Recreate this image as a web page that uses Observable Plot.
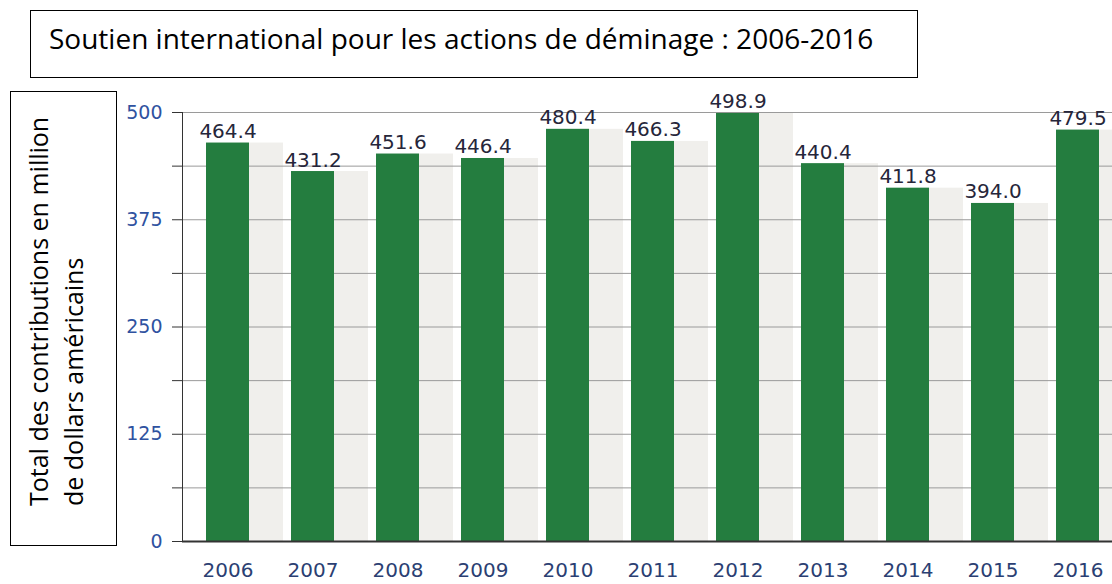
<!DOCTYPE html>
<html>
<head>
<meta charset="utf-8">
<script src="https://cdn.jsdelivr.net/npm/d3@7"></script>
<script src="https://cdn.jsdelivr.net/npm/@observablehq/plot@0.6"></script>
<style>
  html, body { margin: 0; padding: 0; background: #fff; }
  #wrap { position: relative; width: 1112px; height: 584px; overflow: hidden; background: #fff; }
  #titleBox { position: absolute; left: 30px; top: 10px; width: 888px; height: 68px; border: 1.5px solid #000; box-sizing: border-box; }
  #titleText { position: absolute; left: 49px; top: 24px; font-family: "Open Sans", sans-serif; font-size: 28px; line-height: 28px; color: #000; white-space: nowrap; }
  #ylabBox { position: absolute; left: 10px; top: 91px; width: 107px; height: 455px; border: 1.5px solid #000; box-sizing: border-box; background: #fff; }
  #ylabText { position: absolute; left: 21px; top: 506px; transform-origin: 0 0; transform: rotate(-90deg); font-family: "Open Sans", sans-serif; font-size: 25px; line-height: 35px; color: #000; white-space: nowrap; }
  #chart { position: absolute; left: 0; top: 85px; }
</style>
</head>
<body>
<div id="wrap">
  <div id="titleBox"></div>
  <div id="titleText">Soutien international pour les actions de déminage : 2006-2016</div>
  <div id="chart"></div>
  <div id="ylabBox"></div>
  <div id="ylabText">Total des contributions en million<br>de dollars américains</div>
</div>
<script>
const years = ["2006", "2007", "2008", "2009", "2010", "2011", "2012", "2013", "2014", "2015", "2016"];
const values = [464.4, 431.2, 451.6, 446.4, 480.4, 466.3, 498.9, 440.4, 411.8, 394.0, 479.5];
const yTickLabels = [0, 125, 250, 375, 500];
const gridTicks = [0, 62.5, 125, 187.5, 250, 312.5, 375, 437.5, 500];

const data = years.map((year, i) => ({year, value: values[i]}));
const fmt = d3.format(".1f");

const chart = Plot.plot({
  width: 1112,
  height: 499,
  marginTop: 27,
  marginBottom: 43,
  marginLeft: 182,
  marginRight: 0,
  style: {fontFamily: "'DejaVu Sans', sans-serif", fontSize: "20px", background: "transparent", overflow: "visible"},
  x: {domain: years, paddingInner: 0.5, paddingOuter: 0.2045, align: 0.636, label: null},
  y: {domain: [0, 500], label: null},
  marks: [
    Plot.barY(data, {x: "year", y: "value", fill: "#f0efec", dx: 34}),
    Plot.gridY(gridTicks, {stroke: "#9a9a9a", strokeOpacity: 1}),
    Plot.axisY(gridTicks, {tickSize: 10, tickPadding: 10, stroke: "#333", fill: "#2f52a0", fontSize: 19,
      tickFormat: d => yTickLabels.includes(d) ? String(d) : ""}),
    Plot.axisX({tickSize: 0, tickPadding: 21, fill: "#2b3f73", fontSize: 20}),
    Plot.barY(data, {x: "year", y: "value", fill: "#247d3f"}),
    Plot.ruleY([0], {stroke: "#333", strokeWidth: 2}),
    Plot.frame({anchor: "left", stroke: "#333"}),
    Plot.text(data, {x: "year", y: "value", text: d => fmt(d.value), lineAnchor: "bottom", dy: -5, fill: "#26263a", fontSize: 20})
  ]
});
document.getElementById("chart").appendChild(chart);
</script>
</body>
</html>
